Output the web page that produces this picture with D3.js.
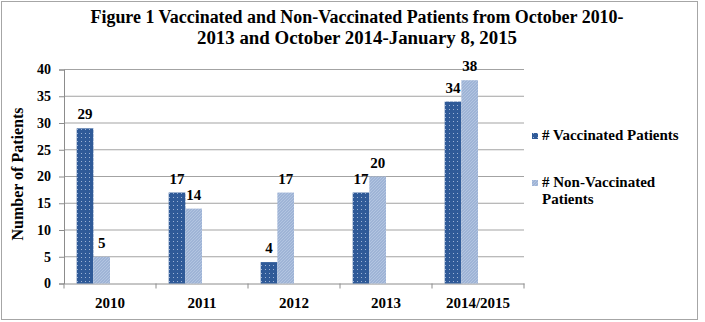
<!DOCTYPE html>
<html>
<head>
<meta charset="utf-8">
<script src="https://cdn.jsdelivr.net/npm/d3@7"></script>
<style>
  body { margin: 0; background: #fff; }
</style>
</head>
<body>
<svg id="chart" width="705" height="322"></svg>
<script>
// data
var years = ["2010", "2011", "2012", "2013", "2014/2015"];
var vaccinated = [29, 17, 4, 17, 34];
var nonVaccinated = [5, 14, 17, 20, 38];
var seriesNames = ["# Vaccinated Patients", "# Non-Vaccinated Patients"];
var yTicks = [0, 5, 10, 15, 20, 25, 30, 35, 40];
var titleLines = ["Figure 1 Vaccinated and Non-Vaccinated Patients from October 2010-",
                  "2013 and October 2014-January 8, 2015"];

var FONT = "'Liberation Serif', 'Times New Roman', serif";

var svg = d3.select("#chart");

// patterns for the bars
var defs = svg.append("defs");
var dots = defs.append("pattern")
  .attr("id", "dots").attr("width", 4).attr("height", 4)
  .attr("patternUnits", "userSpaceOnUse");
dots.append("rect").attr("width", 4).attr("height", 4).attr("fill", "#2f5a98");
dots.append("rect").attr("x", 1).attr("y", 1).attr("width", 1).attr("height", 1).attr("fill", "#9db3d6");

var hatch = defs.append("pattern")
  .attr("id", "hatch").attr("width", 3).attr("height", 3)
  .attr("patternUnits", "userSpaceOnUse");
hatch.append("rect").attr("width", 3).attr("height", 3).attr("fill", "#9fb4d6");
hatch.append("path").attr("d", "M0,3 L3,0").attr("stroke", "#b9c9e3").attr("stroke-width", 0.8);

// outer frame
svg.append("rect")
  .attr("x", 1.5).attr("y", 1.5).attr("width", 696).attr("height", 318)
  .attr("fill", "none").attr("stroke", "#a6a6a6").attr("stroke-width", 1);

function boldText(sel, size) {
  return sel.style("font-family", FONT).style("font-weight", "bold")
    .style("font-size", size + "px").attr("fill", "#000");
}

// title
svg.append("g").selectAll("text")
  .data(titleLines)
  .join("text")
  .attr("x", 357)
  .attr("y", (d, i) => 23 + i * 21)
  .attr("text-anchor", "middle")
  .attr("textLength", (d, i) => i === 0 ? 533 : 320)
  .attr("lengthAdjust", "spacingAndGlyphs")
  .call(boldText, 18)
  .text(d => d);

var x = d3.scaleBand().domain(years).range([64, 524]);
var y = d3.scaleLinear().domain([0, 40]).range([283.5, 69.5]);
var x1 = d3.scaleBand().domain([0, 1]).range([12.7, 46]);

// gridlines
svg.append("g").selectAll("line")
  .data(yTicks.slice(1))
  .join("line")
  .attr("x1", 64).attr("x2", 524)
  .attr("y1", d => y(d)).attr("y2", d => y(d))
  .attr("stroke", "#a3a3a3").attr("stroke-width", 1);

// y axis
var yAxis = svg.append("g")
  .attr("transform", "translate(64,0)")
  .call(d3.axisLeft(y).tickValues(yTicks).tickSize(5).tickPadding(8));
yAxis.attr("font-family", null);
yAxis.select(".domain").attr("stroke", "#8c8c8c");
yAxis.selectAll(".tick line").attr("stroke", "#8c8c8c");
yAxis.selectAll(".tick text").call(boldText, 14);

// x axis
var xAxis = svg.append("g")
  .attr("transform", "translate(0," + y(0) + ")")
  .call(d3.axisBottom(x).tickSize(0).tickPadding(14));
xAxis.attr("font-family", null);
xAxis.select(".domain").attr("stroke", "#8c8c8c");
xAxis.selectAll(".tick text").call(boldText, 15);
svg.append("g").selectAll("line")
  .data(years.map(d => x(d)).concat([x.range()[1]]))
  .join("line")
  .attr("x1", d => d).attr("x2", d => d)
  .attr("y1", y(0)).attr("y2", y(0) + 5)
  .attr("stroke", "#8c8c8c");

// bars
var rows = years.map((yr, i) => ({ year: yr, values: [vaccinated[i], nonVaccinated[i]] }));
var fills = ["url(#dots)", "url(#hatch)"];

var groups = svg.append("g").selectAll("g")
  .data(rows)
  .join("g")
  .attr("transform", d => "translate(" + x(d.year) + ",0)");

groups.selectAll("rect")
  .data(d => d.values.map((v, k) => ({ k: k, v: v })))
  .join("rect")
  .attr("x", d => x1(d.k))
  .attr("width", x1.bandwidth())
  .attr("y", d => y(d.v))
  .attr("height", d => y(0) - y(d.v))
  .attr("fill", d => fills[d.k]);

groups.selectAll("text.val")
  .data(d => d.values.map((v, k) => ({ k: k, v: v })))
  .join("text")
  .attr("class", "val")
  .attr("x", d => x1(d.k) + x1.bandwidth() / 2)
  .attr("y", d => y(d.v) - 9)
  .attr("text-anchor", "middle")
  .call(boldText, 15)
  .text(d => d.v);

// y axis title
svg.append("text")
  .attr("transform", "translate(23,174) rotate(-90)")
  .attr("text-anchor", "middle")
  .call(boldText, 16)
  .text("Number of Patients");

// legend
var legend = svg.append("g");
legend.append("rect").attr("x", 532).attr("y", 133).attr("width", 6).attr("height", 6).attr("fill", fills[0]);
legend.append("text").attr("x", 542).attr("y", 139.5).call(boldText, 15).text(seriesNames[0]);
legend.append("rect").attr("x", 532).attr("y", 180).attr("width", 6).attr("height", 6).attr("fill", fills[1]);
legend.append("text").attr("x", 542).attr("y", 187).call(boldText, 15).text("# Non-Vaccinated");
legend.append("text").attr("x", 542).attr("y", 203.5).call(boldText, 15).text("Patients");
</script>
</body>
</html>
